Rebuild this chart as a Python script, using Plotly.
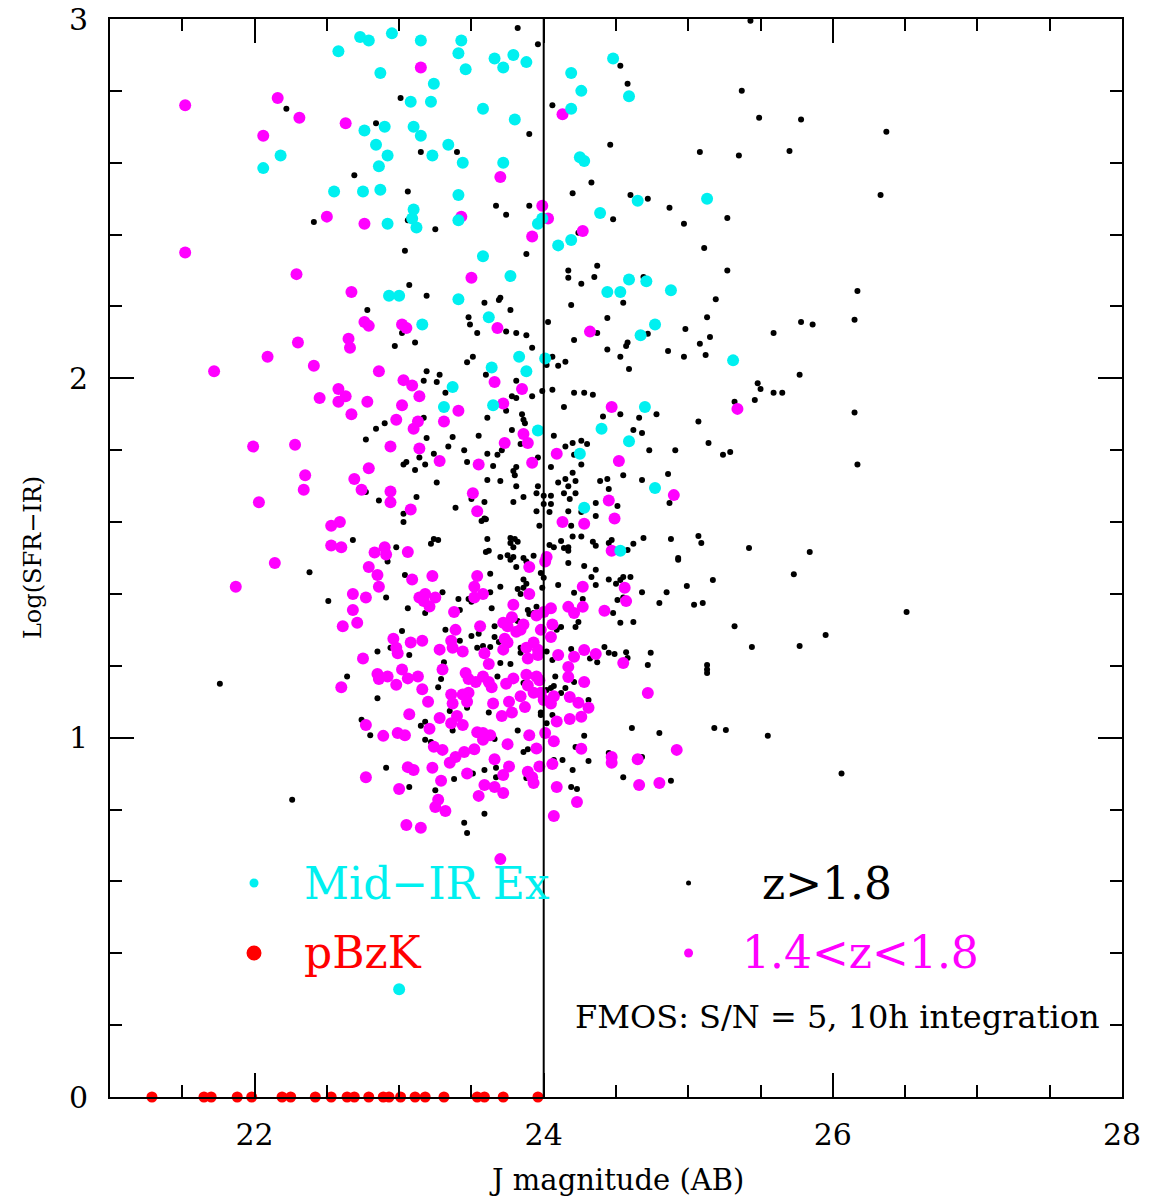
import plotly.graph_objects as go

# ---------------- data (J magnitude, log SFR-IR) ----------------
MID_IR_EX = [
    (22.73,2.95),(22.79,2.94),(22.58,2.91),(22.87,2.85),(22.76,2.69),(22.18,2.62),(22.06,2.585),(22.84,2.65),(22.86,2.59),(22.55,2.52),(22.75,2.52),(22.87,2.525),
    (22.95,2.96),(23.15,2.94),(23.43,2.94),(23.41,2.905),(23.66,2.89),(23.79,2.90),(23.72,2.865),(23.88,2.88),(23.46,2.86),
    (23.24,2.82),(23.08,2.77),(23.22,2.77),(23.58,2.75),(23.80,2.72),(22.90,2.70),(23.10,2.70),(23.15,2.675),(23.34,2.65),(23.23,2.62),(22.92,2.62),
    (23.44,2.60),(23.72,2.60),(23.41,2.51),(23.10,2.47),(23.09,2.445),(23.12,2.42),(23.41,2.44),(22.92,2.43),(23.96,2.43),(23.99,2.445),
    (24.10,2.37),(24.19,2.385),(23.58,2.34),(23.77,2.285),(22.93,2.23),(23.00,2.23),(23.41,2.22),
    (24.48,2.89),(24.19,2.85),(24.26,2.80),(24.59,2.785),(24.19,2.75),(24.25,2.615),(24.28,2.605),(24.39,2.46),(24.65,2.494),(25.13,2.50),
    (24.59,2.275),(24.71,2.27),(24.44,2.24),(24.53,2.24),(24.88,2.245),
    (23.62,2.17),(23.16,2.15),(23.83,2.06),(24.01,2.055),(23.64,2.03),(23.88,2.02),(23.37,1.976),(23.31,1.92),(23.65,1.925),(23.96,1.855),
    (24.77,2.15),(24.67,2.12),(25.31,2.05),(24.70,1.92),(24.40,1.86),(24.59,1.825),(24.25,1.79),(24.77,1.695),(24.28,1.64),(24.53,1.52),
    (23.00,0.30),
]

Z_14_18 = [
    (21.52,2.76),(22.16,2.78),(22.31,2.725),(22.63,2.71),(22.06,2.675),(22.50,2.45),(22.76,2.43),(21.52,2.35),(22.29,2.29),(22.67,2.24),
    (23.15,2.865),(24.13,2.735),(23.70,2.56),(23.99,2.48),(24.03,2.445),(23.43,2.45),(23.92,2.395),(23.50,2.28),(24.27,2.41),
    (22.76,2.157),(22.79,2.146),(22.30,2.10),(22.65,2.11),(22.66,2.085),(22.09,2.06),(21.72,2.02),(22.41,2.035),(22.86,2.02),
    (22.58,1.97),(22.63,1.95),(22.58,1.935),(22.45,1.945),(22.78,1.935),(22.67,1.90),(21.99,1.81),(22.28,1.815),(22.79,1.75),(22.35,1.73),(22.69,1.72),(22.34,1.69),(22.74,1.69),(22.03,1.655),
    (22.53,1.59),(22.59,1.60),(22.53,1.535),(22.60,1.53),(22.83,1.515),(22.14,1.486),
    (22.79,1.475),(22.85,1.453),(22.86,1.42),(21.87,1.42),(22.68,1.40),(22.77,1.39),(22.68,1.355),(22.71,1.32),(22.61,1.31),
    (22.75,1.22),(22.85,1.177),(22.86,1.163),(22.60,1.14),(22.77,1.035),(22.77,0.89),
    (23.02,2.15),(23.05,2.14),(23.68,2.14),(23.03,1.995),(23.09,1.98),(23.66,1.99),(23.85,1.97),(23.14,1.95),(23.02,1.925),(23.41,1.91),(23.72,1.93),
    (22.98,1.885),(23.13,1.88),(23.10,1.86),(23.31,1.88),(23.86,1.845),(23.89,1.82),(23.73,1.82),(22.94,1.81),(23.14,1.805),(24.09,1.79),
    (23.28,1.77),(23.55,1.76),(23.92,1.765),(22.94,1.685),(22.94,1.655),(23.51,1.68),(23.08,1.635),(23.54,1.63),(24.13,1.60),
    (22.90,1.53),(22.91,1.51),(23.06,1.517),(24.02,1.503),
    (24.32,2.13),(25.34,1.915),(24.47,1.92),(24.52,1.77),(24.90,1.675),(24.45,1.66),(24.49,1.61),(24.28,1.595),(24.47,1.52),
    (23.90,1.475),(24.01,1.49),(23.09,1.44),(23.23,1.45),(23.54,1.45),(23.52,1.42),(23.90,1.40),
    (23.14,1.39),(23.18,1.40),(23.25,1.39),(23.21,1.365),(23.17,1.38),(23.52,1.39),(23.58,1.40),(23.38,1.35),(23.79,1.37),
    (24.05,1.36),(23.95,1.34),(24.00,1.35),(23.78,1.335),(23.72,1.32),(23.75,1.31),(23.81,1.295),(23.86,1.315),(23.84,1.30),(23.56,1.31),(23.39,1.30),
    (23.98,1.30),(24.06,1.315),(24.05,1.28),(23.73,1.275),(23.75,1.265),(23.72,1.245),(22.96,1.275),(23.08,1.265),(23.16,1.27),(23.36,1.27),(23.37,1.25),
    (22.98,1.25),(22.99,1.235),(23.28,1.245),(23.44,1.24),(23.59,1.235),(23.88,1.25),(23.93,1.265),(23.96,1.245),(23.96,1.23),(23.89,1.22),(24.10,1.23),
    (23.30,1.19),(23.62,1.205),(23.02,1.19),(23.06,1.165),(23.13,1.17),(22.92,1.17),(22.98,1.147),
    (23.46,1.18),(23.48,1.163),(23.53,1.155),(23.58,1.17),(23.62,1.155),(23.64,1.14),(23.74,1.15),(23.79,1.165),
    (23.88,1.175),(23.95,1.17),(23.97,1.16),(23.89,1.145),(23.93,1.125),(23.98,1.125),
    (23.16,1.135),(23.20,1.10),(23.36,1.12),(23.37,1.095),(23.44,1.12),(23.48,1.125),(23.47,1.10),(23.65,1.095),(23.76,1.10),(23.78,1.07),(23.71,1.06),
    (23.84,1.115),(23.87,1.085),(24.00,1.105),(24.05,1.095),(24.07,1.115),(23.07,1.065),(23.28,1.055),(23.36,1.04),(23.40,1.06),(23.44,1.035),(24.09,1.045),
    (23.21,1.025),(23.54,1.015),(23.58,1.013),(23.63,1.007),(23.58,0.994),(23.90,1.007),(24.01,1.013),(24.07,0.99),(22.89,1.005),(22.99,1.013),(23.04,1.007),
    (23.24,0.975),(23.30,0.966),(23.45,0.96),(23.39,0.946),(23.35,0.93),(23.52,0.968),(23.75,0.982),(23.95,0.97),(23.66,0.94),(23.76,0.92),(23.97,0.92),(24.06,0.927),
    (23.06,0.918),(23.10,0.91),(23.23,0.916),(23.47,0.90),(23.72,0.896),(23.89,0.905),(23.92,0.89),(23.93,0.874),
    (23.59,0.868),(23.66,0.863),(23.55,0.838),(23.72,0.846),(23.29,0.88),(23.00,0.857),(23.27,0.827),(23.25,0.807),(23.32,0.796),(24.09,0.863),
    (23.05,0.757),(23.15,0.749),(24.07,0.782),(23.70,0.662),
    (24.27,1.42),(24.56,1.417),(24.57,1.38),(24.17,1.364),(24.21,1.347),(24.27,1.364),(24.42,1.353),(24.21,1.225),(24.28,1.244),(24.36,1.233),(24.55,1.208),
    (24.17,1.197),(24.17,1.169),(24.28,1.155),(24.72,1.124),(24.18,1.113),(24.24,1.097),(24.31,1.083),(24.26,1.058),(24.18,1.052),
    (24.26,0.969),(24.47,0.946),(24.47,0.93),(24.65,0.94),(24.92,0.966),(24.66,0.868),(24.80,0.874),(24.23,0.821),
]

Z_GT_18 = [
    (22.22,2.75),(22.84,2.71),(22.69,2.565),(22.41,2.435),
    (23.82,2.975),(23.96,2.93),(23.01,2.78),(24.06,2.76),(23.90,2.68),(23.15,2.63),(23.40,2.63),(23.06,2.52),(23.67,2.48),(23.90,2.48),(23.74,2.455),(23.06,2.44),(23.25,2.415),(23.04,2.355),(23.88,2.346),(23.07,2.26),(23.19,2.23),(23.70,2.224),
    (25.43,2.995),(24.53,2.87),(24.58,2.82),(25.37,2.80),(25.49,2.725),(24.46,2.65),(25.08,2.63),(25.35,2.62),(24.33,2.545),(24.20,2.515),(24.60,2.51),(24.72,2.50),(24.87,2.475),(24.97,2.43),(25.27,2.446),(24.48,2.443),(24.24,2.405),(25.11,2.363),(24.17,2.30),(24.17,2.28),(24.37,2.313),(24.35,2.282),(24.26,2.263),(25.27,2.30),(24.69,2.282),(25.19,2.22),
    (25.78,2.72),(26.37,2.686),(25.70,2.633),(26.33,2.51),(26.17,2.243),(25.78,2.157),(25.86,2.15),(26.15,2.163),(25.59,2.126),(25.77,2.01),
    (25.50,1.97),(25.59,1.96),(25.65,1.96),(26.15,1.905),(26.17,1.76),(25.84,1.517),(25.73,1.455),(26.51,1.35),(25.95,1.286),(25.77,1.255),(25.55,1.005),(26.06,0.90),
    (22.78,2.19),(22.84,1.86),(22.77,1.83),(22.77,1.684),(22.86,1.66),(22.68,1.55),
    (22.38,1.46),(22.51,1.38),(22.85,1.24),(22.64,1.17),(21.76,1.15),(22.85,1.11),(22.74,1.05),(22.80,1.007),(22.26,0.827),
    (23.59,2.21),(23.69,2.218),(23.77,2.19),(23.48,2.17),(23.49,2.15),(24.03,2.157),(23.74,2.13),(23.81,2.126),(23.88,2.12),(23.54,2.126),(23.02,2.126),(23.11,2.10),(22.97,2.09),(23.92,2.085),
    (24.06,2.06),(24.10,2.035),(24.02,2.037),(23.51,2.06),(23.47,2.045),(23.19,2.02),(23.28,2.01),(23.17,1.993),(23.26,1.99),(23.81,1.993),(23.60,2.01),(23.99,1.965),(24.06,1.968),(23.32,1.96),
    (23.78,1.95),(23.81,1.945),(23.92,1.95),(23.74,1.91),(23.85,1.90),(23.86,1.885),(23.17,1.89),(23.61,1.89),(22.90,1.875),(23.87,1.875),(23.78,1.856),(23.55,1.84),(24.07,1.84),(23.19,1.834),(23.37,1.837),
    (23.84,1.817),(23.34,1.81),(23.45,1.80),(23.71,1.80),(23.68,1.787),(23.61,1.79),(23.24,1.79),(23.14,1.78),(23.96,1.78),(23.05,1.767),(23.03,1.76),(23.18,1.76),(23.47,1.767),(23.65,1.756),(24.05,1.753),
    (23.81,1.753),(23.79,1.742),(23.80,1.73),(23.11,1.745),(24.10,1.71),(23.26,1.71),(23.61,1.717),(23.70,1.714),(23.81,1.70),(23.96,1.70),(23.95,1.68),(24.00,1.673),(24.05,1.673),(23.12,1.67),(23.86,1.67),
    (23.50,1.664),(23.59,1.656),(23.79,1.656),(24.00,1.65),(24.05,1.65),(23.39,1.64),(23.95,1.63),(24.04,1.628),(23.03,1.623),(23.03,1.60),(23.59,1.61),(23.60,1.608),(23.57,1.603),(23.97,1.59),
    (23.24,1.553),(23.27,1.55),(23.22,1.54),(23.61,1.553),(23.77,1.556),(23.80,1.553),(23.82,1.545),(23.77,1.542),(23.79,1.53),(24.04,1.536),(24.07,1.53),(23.62,1.52),(23.60,1.517),(22.98,1.53),
    (23.75,1.508),(23.70,1.503),(23.79,1.503),(23.93,1.506),(23.86,1.50),
    (24.19,2.204),(24.55,2.21),(25.13,2.17),(24.44,2.168),(24.72,2.124),(24.37,2.126),(24.98,2.137),(25.15,2.115),(25.08,2.096),(24.21,2.107),(24.58,2.10),(24.57,2.09),(24.44,2.08),(24.86,2.076),(25.12,2.065),(24.97,2.06),(24.53,2.06),(24.15,2.046),(24.59,2.026),
    (25.48,1.986),(25.32,1.935),(25.46,1.94),(24.21,1.96),(24.28,1.96),(24.34,1.954),(24.14,1.92),(24.53,1.90),(24.41,1.894),(24.78,1.90),(24.66,1.89),(24.62,1.856),(24.68,1.848),(25.07,1.88),(25.14,1.82),(25.24,1.787),(25.29,1.795),
    (24.73,1.80),(24.91,1.80),(24.15,1.81),(24.20,1.82),(24.26,1.826),(24.30,1.817),(24.21,1.787),(24.26,1.76),(24.55,1.73),(24.86,1.734),(24.68,1.717),(24.39,1.714),(24.44,1.72),(24.20,1.737),(24.22,1.714),(24.15,1.72),
    (24.17,1.70),(24.22,1.68),(24.14,1.68),(24.18,1.664),(24.45,1.692),(24.87,1.653),(24.36,1.653),(24.51,1.645),(24.26,1.628),(24.17,1.63),(24.36,1.617),(24.19,1.59),(24.20,1.56),(24.26,1.56),
    (24.12,1.547),(24.17,1.53),(24.14,1.528),(24.17,1.52),(24.34,1.545),(24.36,1.534),(24.47,1.55),(24.45,1.542),(24.62,1.54),(24.58,1.522),(24.69,1.556),(24.88,1.553),(25.07,1.561),(25.09,1.542),(25.42,1.528),(24.93,1.50),
    (22.92,1.49),(23.77,1.495),(23.81,1.475),(23.88,1.49),(23.91,1.472),(23.98,1.458),(24.00,1.445),(23.04,1.453),(23.63,1.456),(23.70,1.42),(23.86,1.44),(23.88,1.428),(23.86,1.417),(23.99,1.417),(23.82,1.414),(23.84,1.40),(24.10,1.425),
    (22.91,1.39),(23.30,1.405),(23.48,1.386),(23.50,1.378),(23.63,1.405),(23.41,1.386),(23.42,1.355),(23.06,1.36),(23.18,1.347),(23.64,1.36),(23.89,1.355),(23.90,1.344),(23.95,1.364),(23.93,1.347),
    (23.82,1.325),(23.86,1.314),(23.32,1.30),(23.02,1.297),(23.66,1.31),(24.09,1.30),(23.50,1.283),(23.55,1.289),(23.42,1.27),(23.66,1.28),(23.69,1.266),(22.94,1.25),(23.07,1.23),(23.54,1.25),(23.58,1.255),(23.63,1.252),(23.84,1.25),(23.84,1.236),(24.02,1.24),
    (23.31,1.21),(23.70,1.208),(23.77,1.205),(24.06,1.216),(23.29,1.163),(23.27,1.14),(23.68,1.17),(23.86,1.152),(24.08,1.17),(24.07,1.144),(24.02,1.133),(24.05,1.138),
    (23.47,1.083),(23.98,1.063),(23.98,1.07),(23.62,1.07),(23.35,1.074),(24.06,1.063),(24.02,1.04),(23.15,1.033),(23.18,1.044),(23.37,1.02),(23.66,0.996),(23.82,1.02),(23.18,0.994),(23.22,0.988),
    (23.86,0.96),(23.89,0.968),(24.07,0.938),(22.91,0.916),(23.51,0.90),(23.59,0.91),(23.67,0.916),(23.67,0.89),(23.88,0.888),(23.38,0.885),(23.07,0.863),(23.25,0.854),(23.59,0.788),(23.45,0.763),(23.47,0.735),
    (24.17,1.486),(24.28,1.478),(24.36,1.467),(24.33,1.447),(24.93,1.495),(24.36,1.425),(24.45,1.44),(24.50,1.428),(24.55,1.447),(24.60,1.447),(24.53,1.439),(24.51,1.383),(24.55,1.39),(24.68,1.405),(24.85,1.405),(24.99,1.422),(25.17,1.439),(24.80,1.375),(25.04,1.37),(25.10,1.375),
    (24.21,1.403),(24.27,1.386),(24.48,1.347),(24.53,1.32),(24.62,1.322),(24.24,1.322),(24.22,1.308),(24.12,1.308),(25.32,1.31),(25.44,1.252),
    (24.19,1.247),(24.42,1.252),(24.45,1.236),(24.49,1.233),(24.57,1.238),(24.58,1.222),(24.74,1.236),(24.32,1.22),(24.37,1.21),(24.72,1.202),(25.13,1.202),(25.13,1.19),(25.13,1.18),
    (24.21,1.155),(24.15,1.138),(24.12,1.124),(24.31,1.105),(24.61,1.027),(24.80,1.013),(25.18,1.027),(25.26,1.021),(24.28,1.005),(24.22,0.974),(24.45,0.957),(24.68,0.946),(24.13,0.938),(24.31,0.935),(24.20,0.91),(24.55,0.89),(24.88,0.88),(24.19,0.863),(24.23,0.857),
]

PBZK_J = [21.29, 21.65, 21.70, 21.88, 21.98, 22.19, 22.25, 22.42, 22.53, 22.64, 22.69,
          22.79, 22.89, 22.93, 23.01, 23.11, 23.18, 23.31, 23.54, 23.59, 23.72, 23.96]
PBZK_SFR = [0.0] * len(PBZK_J)

FMOS_LIMIT = 24.0
X_TICKS = [22, 24, 26, 28]
Y_TICKS = [0, 1, 2, 3]

FONT = "DejaVu Serif"

def unzip(pairs):
    return [p[0] for p in pairs], [p[1] for p in pairs]

bx, by = unzip(Z_GT_18)
mx, my = unzip(Z_14_18)
cx, cy = unzip(MID_IR_EX)

fig = go.Figure()
fig.add_trace(go.Scatter(x=bx, y=by, mode="markers", name="z>1.8",
                         marker=dict(color="black", size=6, line=dict(width=0))))
fig.add_trace(go.Scatter(x=mx, y=my, mode="markers", name="1.4<z<1.8",
                         marker=dict(color="#ff00ff", size=12, line=dict(width=0))))
fig.add_trace(go.Scatter(x=cx, y=cy, mode="markers", name="Mid-IR Ex",
                         marker=dict(color="#00f0f0", size=12, line=dict(width=0))))
fig.add_trace(go.Scatter(x=PBZK_J, y=PBZK_SFR, mode="markers", name="pBzK", cliponaxis=False,
                         marker=dict(color="#ff0000", size=11, line=dict(width=0))))

axis_common = dict(showline=True, linecolor="black", linewidth=2, mirror="ticks",
                   ticks="inside", ticklen=24, tickwidth=2, tickcolor="black",
                   showgrid=False, zeroline=False, automargin=False,
                   tickfont=dict(family=FONT, size=30, color="black"))

fig.update_xaxes(range=[21, 28], tickvals=X_TICKS, ticktext=[str(v) for v in X_TICKS],
                 minor=dict(dtick=0.5, tick0=21, ticks="inside", ticklen=12, tickwidth=2, tickcolor="black"),
                 ticklabelstandoff=10, **axis_common)
fig.update_yaxes(range=[0, 3], tickvals=Y_TICKS, ticktext=[str(v) for v in Y_TICKS],
                 minor=dict(dtick=0.2, tick0=0, ticks="inside", ticklen=12, tickwidth=2, tickcolor="black"),
                 ticklabelstandoff=14, **axis_common)

fig.add_shape(type="line", xref="x", yref="y", x0=FMOS_LIMIT, x1=FMOS_LIMIT, y0=0, y1=3,
              line=dict(color="black", width=2), layer="above")

# legend markers
def legend_dot(xp, yp, d, color):
    fig.add_shape(type="circle", xref="paper", yref="paper", xsizemode="pixel", ysizemode="pixel",
                  xanchor=xp, yanchor=yp, x0=-d / 2, x1=d / 2, y0=-d / 2, y1=d / 2,
                  fillcolor=color, line=dict(width=0))

legend_dot(0.1423, 0.1985, 9, "#00f0f0")
legend_dot(0.1423, 0.1336, 15, "#ff0000")
legend_dot(0.5717, 0.1985, 5, "black")
legend_dot(0.5717, 0.1336, 9, "#ff00ff")

def label(text, xp, yp, size, color, **kw):
    fig.add_annotation(text=text, xref="paper", yref="paper", x=xp, y=yp, showarrow=False,
                       xanchor=kw.get("xanchor", "left"), yanchor="middle",
                       textangle=kw.get("angle", 0),
                       font=dict(family=FONT, size=size, color=color))

label("Mid\u2212IR Ex", 0.190, 0.1985, 44, "#00f0f0")
label("z>1.8", 0.642, 0.1985, 44, "black")
label("pBzK", 0.190, 0.1336, 44, "#ff0000")
label("1.4<z<1.8", 0.6225, 0.1336, 44, "#ff00ff")
label("FMOS: S/N = 5, 10h integration", 0.4575, 0.0742, 32, "black")
label("J magnitude (AB)", 0.5, -0.077, 29, "black", xanchor="center")
label("Log(SFR\u2212IR)", -0.076, 0.5, 24, "black", xanchor="center", angle=-90)

fig.update_layout(width=1164, height=1198, showlegend=False,
                  margin=dict(l=110, r=42, t=19, b=101),
                  paper_bgcolor="white", plot_bgcolor="white")

fig.write_html("out.html")
